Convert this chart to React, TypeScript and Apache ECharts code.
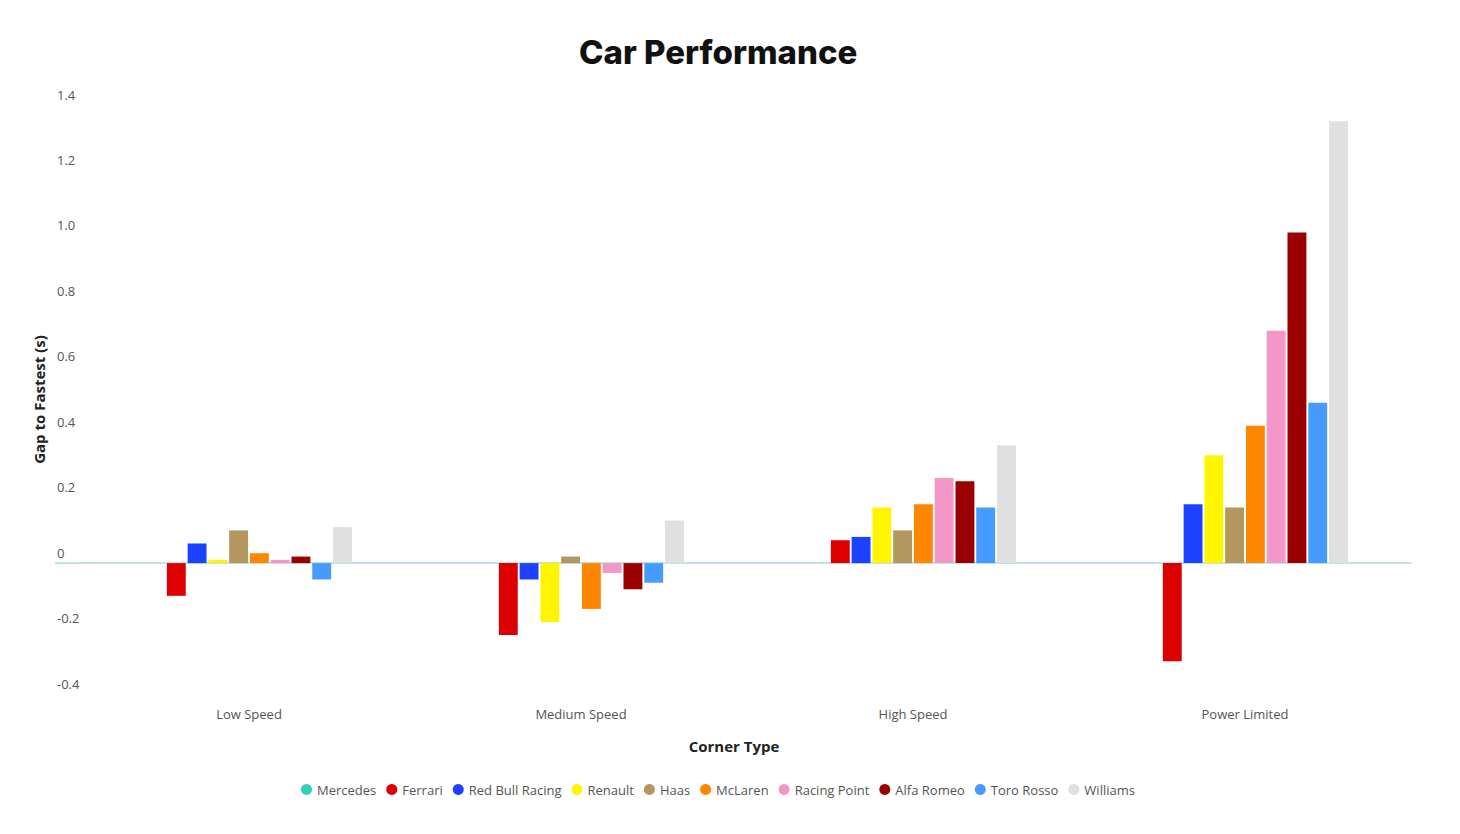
import React, { useEffect, useRef } from "react";
import * as echarts from "echarts";

const categories = ["Low Speed", "Medium Speed", "High Speed", "Power Limited"];
const teams = ["Mercedes", "Ferrari", "Red Bull Racing", "Renault", "Haas", "McLaren", "Racing Point", "Alfa Romeo", "Toro Rosso", "Williams"];
const teamColors = ["#2fd1b8", "#dc0000", "#1e41ff", "#fff500", "#b4965f", "#ff8700", "#f596c8", "#9b0000", "#469bff", "#e0e0e0"];

const mercedes = [0, 0, 0, 0];
const ferrari = [-0.1, -0.22, 0.07, -0.3];
const redBull = [0.06, -0.05, 0.08, 0.18];
const renault = [0.01, -0.18, 0.17, 0.33];
const haas = [0.1, 0.02, 0.1, 0.17];
const mclaren = [0.03, -0.14, 0.18, 0.42];
const racingPoint = [0.01, -0.03, 0.26, 0.71];
const alfaRomeo = [0.02, -0.08, 0.25, 1.01];
const toroRosso = [-0.05, -0.06, 0.17, 0.49];
const williams = [0.11, 0.13, 0.36, 1.35];

const seriesValues = [mercedes, ferrari, redBull, renault, haas, mclaren, racingPoint, alfaRomeo, toroRosso, williams];
const yTicks = [-0.4, -0.2, 0, 0.2, 0.4, 0.6, 0.8, 1.0, 1.2, 1.4];

const fmt = (v: number) => {
  if (Math.abs(v) < 1e-9) return "0";
  return v.toFixed(1);
};

export default function App() {
  const ref = useRef<HTMLDivElement>(null);
  useEffect(() => {
    if (!ref.current) return;
    const chart = echarts.init(ref.current, undefined, { renderer: "svg" });
    const labelFont = "'Open Sans', 'Noto Sans', sans-serif";
    chart.setOption({
      animation: false,
      backgroundColor: "#ffffff",
      title: {
        text: "Car Performance",
        left: 574,
        top: 30,
        textStyle: { fontFamily: "Inter, 'Noto Sans', sans-serif", fontWeight: 800, fontSize: 33, color: "#111" },
      },
      legend: {
        data: teams,
        bottom: 33,
        left: 296,
        icon: "circle",
        itemWidth: 11,
        itemHeight: 11,
        itemGap: 10,
        textStyle: { fontFamily: labelFont, fontSize: 13, color: "#555" },
      },
      grid: { left: 83, right: 49, top: 105, bottom: 140, containLabel: false },
      xAxis: [
        {
          type: "category",
          data: categories,
          axisLine: { show: true, onZero: true, lineStyle: { color: "#a9dcdc", width: 1.5 } },
          axisTick: { show: false },
          axisLabel: { show: false },
        },
        {
          type: "category",
          data: categories,
          position: "bottom",
          axisLine: { show: false, onZero: false },
          axisTick: { show: false },
          axisLabel: { show: true, margin: 13, fontFamily: labelFont, fontSize: 13, color: "#555" },
          name: "Corner Type",
          nameLocation: "middle",
          nameGap: 44,
          nameTextStyle: { fontFamily: labelFont, fontWeight: "bold", fontSize: 15, color: "#222", padding: [0, 26, 0, 0] },
        },
      ],
      yAxis: {
        type: "value",
        min: yTicks[0],
        max: yTicks[yTicks.length - 1],
        interval: 0.2,
        splitLine: { show: false },
        axisLine: { show: false },
        axisTick: { show: false },
        axisLabel: {
          align: "left",
          verticalAlign: "bottom",
          padding: [0, 0, 4, 0],
          margin: 26,
          fontFamily: labelFont,
          fontSize: 13,
          color: "#555",
          formatter: (v: number) => fmt(v),
        },
        name: "Gap to Fastest (s)",
        nameLocation: "middle",
        nameRotate: 90,
        nameGap: 37,
        nameTextStyle: { fontFamily: labelFont, fontWeight: "bold", fontSize: 15, color: "#222" },
      },
      series: teams.map((t, i) => ({
        name: t,
        type: "bar",
        xAxisIndex: 0,
        data: seriesValues[i],
        itemStyle: { color: teamColors[i] },
        barGap: "10%",
        barCategoryGap: "38%",
      })),
    });
    const y0 = chart.convertToPixel({ yAxisIndex: 0 }, 0) as number;
    chart.setOption({
      graphic: [
        { type: "line", shape: { x1: 55, y1: y0, x2: 84, y2: y0 }, style: { stroke: "#a9dcdc", lineWidth: 1.5 } },
      ],
    });
    return () => chart.dispose();
  }, []);
  return <div ref={ref} style={{ position: "fixed", left: 0, top: 0, width: 1460, height: 834 }} />;
}
